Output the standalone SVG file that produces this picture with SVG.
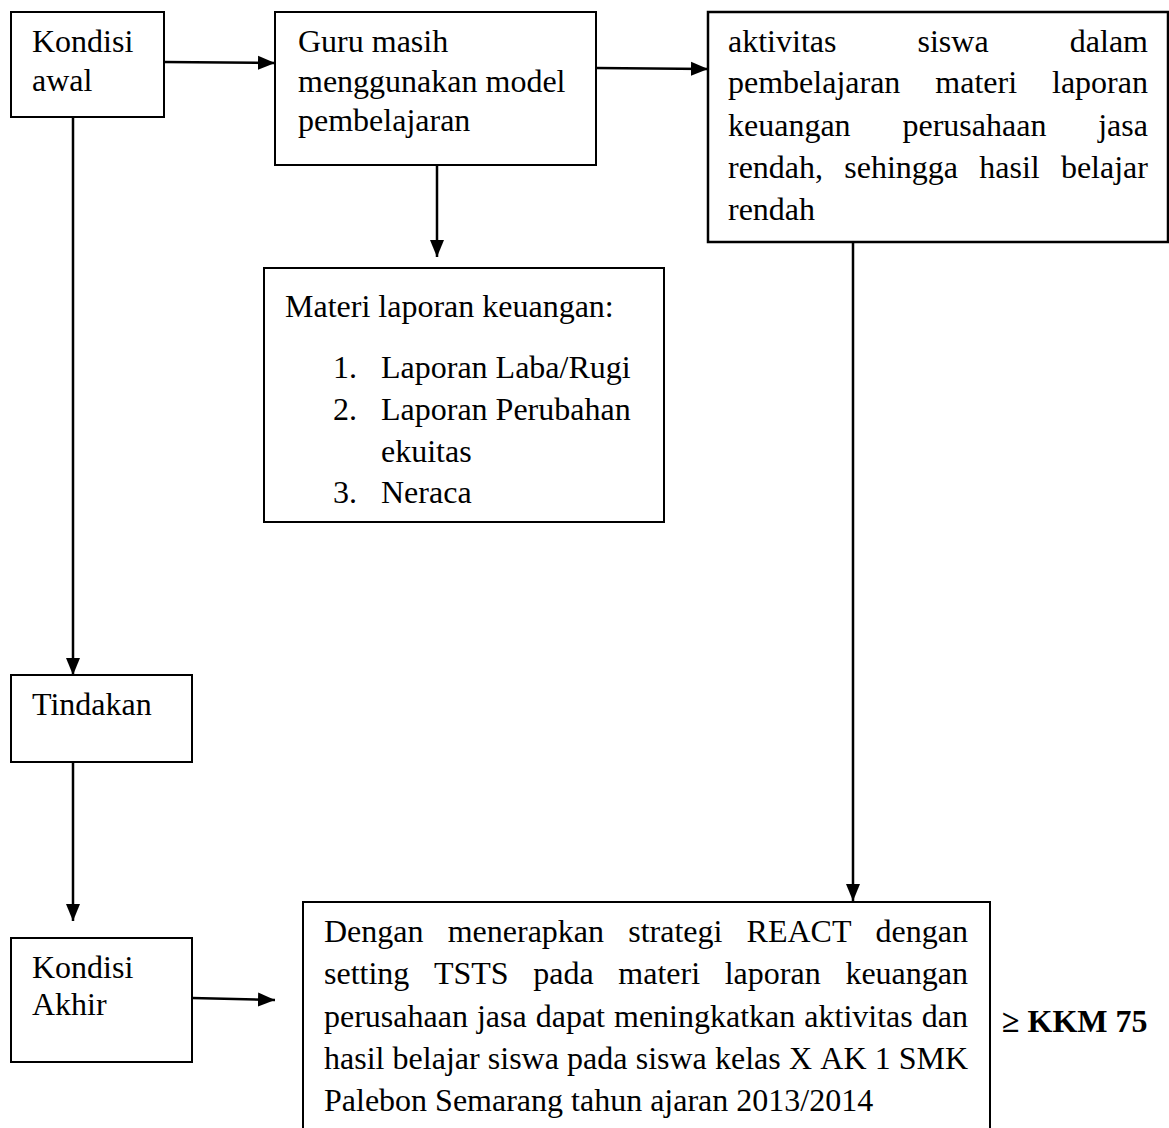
<svg xmlns="http://www.w3.org/2000/svg" width="1169" height="1128" viewBox="0 0 1169 1128">
<style>
  .box { fill: #ffffff; stroke: #000000; stroke-width: 2; }
  .t { font-family: "Liberation Serif", "Times New Roman", serif; font-size: 32px; fill: #000000; }
  .b { font-weight: bold; }
  .edge { stroke: #000000; stroke-width: 2.5; fill: none; marker-end: url(#arrow); }
</style>
<defs>
  <marker id="arrow" markerUnits="userSpaceOnUse" markerWidth="18" markerHeight="16" refX="17" refY="8" orient="auto">
    <path d="M0,1 L17,8 L0,15 z" fill="#000000"/>
  </marker>
</defs>
<rect x="0" y="0" width="1169" height="1128" fill="#ffffff"/>

<g id="connectors">
  <line class="edge" x1="164" y1="62" x2="275" y2="63"/>
  <line class="edge" x1="596" y1="68" x2="708" y2="69"/>
  <line class="edge" x1="437" y1="165" x2="437" y2="257"/>
  <line class="edge" x1="853" y1="242" x2="853" y2="901"/>
  <line class="edge" x1="73" y1="117" x2="73" y2="675"/>
  <line class="edge" x1="73" y1="762" x2="73" y2="921"/>
  <line class="edge" x1="192" y1="998" x2="275" y2="1000"/>
</g>

<g id="kondisi-awal">
  <rect class="box" x="11" y="12" width="153" height="105"/>
  <text class="t" x="32" y="52">Kondisi</text>
  <text class="t" x="32" y="91">awal</text>
</g>

<g id="guru">
  <rect class="box" x="275" y="12" width="321" height="153"/>
  <text class="t" x="298" y="52">Guru masih</text>
  <text class="t" x="298" y="92">menggunakan model</text>
  <text class="t" x="298" y="131">pembelajaran</text>
</g>

<g id="aktivitas">
  <rect class="box" x="708" y="12" width="460" height="230" style="stroke-width:2.5"/>
  <text class="t" y="52"><tspan x="728">aktivitas</tspan><tspan x="917.5">siswa</tspan><tspan x="1069.8">dalam</tspan></text>
  <text class="t" y="93"><tspan x="728">pembelajaran</tspan><tspan x="935.3">materi</tspan><tspan x="1052">laporan</tspan></text>
  <text class="t" y="136"><tspan x="728">keuangan</tspan><tspan x="902.5">perusahaan</tspan><tspan x="1098.2">jasa</tspan></text>
  <text class="t" y="178"><tspan x="728">rendah,</tspan><tspan x="844.3">sehingga</tspan><tspan x="979.3">hasil</tspan><tspan x="1060.9">belajar</tspan></text>
  <text class="t" x="728" y="220">rendah</text>
</g>

<g id="materi">
  <rect class="box" x="264" y="268" width="400" height="254"/>
  <text class="t" x="285" y="317">Materi laporan keuangan:</text>
  <text class="t" x="333" y="378">1.</text>
  <text class="t" x="381" y="378">Laporan Laba/Rugi</text>
  <text class="t" x="333" y="420">2.</text>
  <text class="t" x="381" y="420">Laporan Perubahan</text>
  <text class="t" x="381" y="462">ekuitas</text>
  <text class="t" x="333" y="503">3.</text>
  <text class="t" x="381" y="503">Neraca</text>
</g>

<g id="tindakan">
  <rect class="box" x="11" y="675" width="181" height="87"/>
  <text class="t" x="32" y="715">Tindakan</text>
</g>

<g id="kondisi-akhir">
  <rect class="box" x="11" y="938" width="181" height="124"/>
  <text class="t" x="32" y="978">Kondisi</text>
  <text class="t" x="32" y="1015">Akhir</text>
</g>

<g id="hasil">
  <rect class="box" x="303" y="902" width="687" height="240"/>
  <text class="t" y="942"><tspan x="324">Dengan</tspan><tspan x="447.7">menerapkan</tspan><tspan x="628.2">strategi</tspan><tspan x="746.6">REACT</tspan><tspan x="875.6">dengan</tspan></text>
  <text class="t" y="984"><tspan x="324">setting</tspan><tspan x="433.9">TSTS</tspan><tspan x="533.3">pada</tspan><tspan x="618.3">materi</tspan><tspan x="724.7">laporan</tspan><tspan x="845.4">keuangan</tspan></text>
  <text class="t" y="1027"><tspan x="324">perusahaan</tspan><tspan x="476.9">jasa</tspan><tspan x="535.7">dapat</tspan><tspan x="614">meningkatkan</tspan><tspan x="804.3">aktivitas</tspan><tspan x="921.8">dan</tspan></text>
  <text class="t" y="1069"><tspan x="324">hasil</tspan><tspan x="392.6">belajar</tspan><tspan x="487.8">siswa</tspan><tspan x="567.1">pada</tspan><tspan x="635.7">siswa</tspan><tspan x="715">kelas</tspan><tspan x="789">X</tspan><tspan x="820.3">AK</tspan><tspan x="874.7">1</tspan><tspan x="898.7">SMK</tspan></text>
  <text class="t" x="324" y="1111">Palebon Semarang tahun ajaran 2013/2014</text>
</g>

<g id="kkm">
  <text class="t b" x="1002" y="1032">≥ KKM 75</text>
</g>
</svg>
